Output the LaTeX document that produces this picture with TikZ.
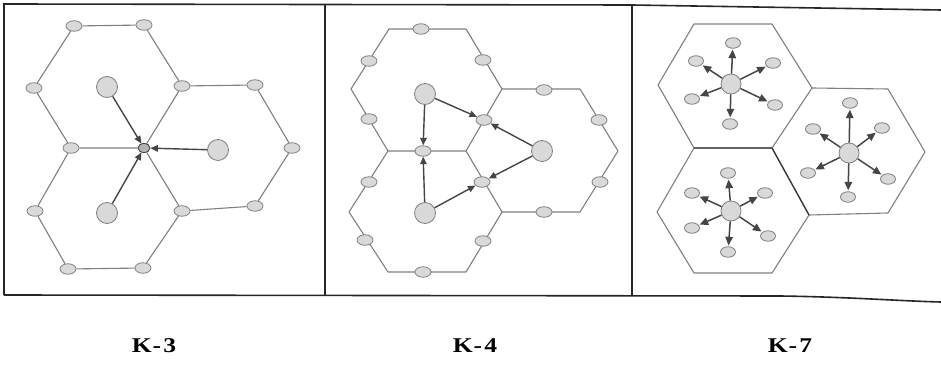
\documentclass[tikz,border=0pt]{standalone}
\usepackage{fontspec}
\setmainfont{Liberation Serif}
\usetikzlibrary{arrows.meta,shapes.geometric}
\definecolor{hexgray}{gray}{0.5}
\definecolor{nodefill}{gray}{0.85}
\definecolor{arrowgray}{gray}{0.27}
\definecolor{framecol}{gray}{0.15}
\begin{document}
\begin{tikzpicture}[x=1pt,y=-1pt,
  hexedge/.style={draw=hexgray,line width=1.1pt},
  sm/.style={ellipse,draw=hexgray,fill=nodefill,line width=0.8pt,minimum width=16pt,minimum height=10.5pt,inner sep=0pt},
  smk/.style={ellipse,draw=hexgray,fill=nodefill,line width=0.8pt,minimum width=15pt,minimum height=10.5pt,inner sep=0pt},
  big/.style={circle,draw=hexgray,fill=nodefill,line width=0.8pt,minimum size=21pt,inner sep=0pt},
  ctr/.style={ellipse,draw=gray!45!black,fill=gray!60,line width=0.8pt,minimum width=12pt,minimum height=9pt,inner sep=0pt},
  arr/.style={draw=arrowgray,line width=1.4pt,-{Triangle[length=7.5pt,width=6.5pt]}},
  arrk/.style={draw=arrowgray,line width=1.5pt,shorten >=1pt,-{Triangle[length=8.5pt,width=7.5pt]}},
  frame/.style={draw=framecol,line width=1.6pt},
  divider/.style={draw=framecol,line width=2.6pt},
  lab/.style={font=\fontsize{21}{25}\selectfont\bfseries,inner sep=0pt}
]
\useasboundingbox[fill=white] (0,0) rectangle (941,371);

% ---------- frame ----------
\draw[frame] (4,295) -- (4,4) -- (632,5) -- (941,10);
\draw[frame] (4,295) -- (780,296) .. controls (850,297) and (900,301) .. (941,302);
\draw[divider] (325,4) -- (325,295);
\draw[divider] (632,5) -- (632,295);

% ---------- K-3 ----------
\node[sm] (a1) at (74,26) {};
\node[sm] (a2) at (144,25) {};
\node[sm] (a3) at (34,88) {};
\node[sm] (a4) at (182,86) {};
\node[sm] (a5) at (255,85) {};
\node[sm] (a6) at (71,148) {};
\node[ctr] (c) at (144,148) {};
\node[sm] (a7) at (292,148) {};
\node[sm] (a8) at (35,211) {};
\node[sm] (a9) at (182,211) {};
\node[sm] (a10) at (255,206) {};
\node[sm] (a11) at (68,269) {};
\node[sm] (a12) at (143,268) {};
\node[big] (b1) at (107,87) {};
\node[big] (b2) at (218,150) {};
\node[big] (b3) at (107,213) {};
\path[hexedge] (a1) -- (a2) (a2) -- (a4) (a4) -- (c) (c) -- (a6) (a6) -- (a3) (a3) -- (a1)
  (a4) -- (a5) (a5) -- (a7) (a7) -- (a10) (a10) -- (a9) (a9) -- (c)
  (a6) -- (a8) (a8) -- (a11) (a11) -- (a12) (a12) -- (a9);
\draw[arr] (b1) -- (c);
\draw[arr] (b2) -- (c);
\draw[arr] (b3) -- (c);

% ---------- K-4 ----------
\coordinate (v1) at (389,29);
\coordinate (v2) at (466,29);
\coordinate (v3) at (502,89);
\coordinate (v4) at (466,151);
\coordinate (v5) at (388,151);
\coordinate (v6) at (351,89);
\coordinate (v7) at (580,89);
\coordinate (v8) at (618,151);
\coordinate (v9) at (580,212);
\coordinate (v10) at (502,212);
\coordinate (v11) at (466,272);
\coordinate (v12) at (388,272);
\coordinate (v13) at (349,212);
\draw[hexedge,line join=round] (v1) -- (v2) -- (v3) -- (v4) -- (v5) -- (v6) -- cycle;
\draw[hexedge,line join=round] (v3) -- (v7) -- (v8) -- (v9) -- (v10) -- (v4);
\draw[hexedge,line join=round] (v10) -- (v11) -- (v12) -- (v13) -- (v5);
\node[sm] (m1) at (421,29) {};
\node[sm] (m2) at (369,61) {};
\node[sm] (m3) at (483,60) {};
\node[sm] (m4) at (369,119) {};
\node[sm] (m5) at (484,120) {};
\node[sm] (m6) at (423,151) {};
\node[sm] (m7) at (544,90) {};
\node[sm] (m8) at (599,120) {};
\node[sm] (m9) at (482,182) {};
\node[sm] (m10) at (600,182) {};
\node[sm] (m11) at (369,182) {};
\node[sm] (m12) at (544,212) {};
\node[sm] (m13) at (365,240) {};
\node[sm] (m14) at (483,241) {};
\node[sm] (m15) at (423,272) {};
\node[big] (B1) at (425,94) {};
\node[big] (B2) at (542,151) {};
\node[big] (B3) at (425,213) {};
\draw[arr] (B1) -- (m6);
\draw[arr] (B1) -- (m5);
\draw[arr] (B2) -- (m5);
\draw[arr] (B2) -- (m9);
\draw[arr] (B3) -- (m6);
\draw[arr] (B3) -- (m9);

% ---------- K-7 ----------
\coordinate (w1) at (694,24);
\coordinate (w2) at (772,24);
\coordinate (w3) at (812,88);
\coordinate (w4) at (772,148);
\coordinate (w5) at (694,148);
\coordinate (w6) at (658,85);
\coordinate (w7) at (888,89);
\coordinate (w8) at (925,152);
\coordinate (w9) at (888,213);
\coordinate (w10) at (809,215);
\coordinate (w11) at (772,273);
\coordinate (w12) at (694,273);
\coordinate (w13) at (657,212);
\draw[hexedge,line join=round] (w1) -- (w2) -- (w3) -- (w4) -- (w5) -- (w6) -- cycle;
\draw[hexedge,line join=round] (w3) -- (w7) -- (w8) -- (w9) -- (w10) -- (w4);
\draw[hexedge,line join=round] (w10) -- (w11) -- (w12) -- (w13) -- (w5);
\draw[hexedge,draw=gray!45!black,line width=1.3pt] (w5) -- (w4) -- (w10);

% cell 1
\node[big,minimum size=20pt] (C1) at (731,84) {};
\node[smk] (p1) at (733,43) {};
\node[smk] (p2) at (696,61) {};
\node[smk] (p3) at (773,63) {};
\node[smk] (p4) at (692,99) {};
\node[smk] (p5) at (775,105) {};
\node[smk] (p6) at (730,124) {};
\foreach \t in {p1,p2,p3,p4,p5,p6} \draw[arrk] (C1) -- (\t);
% cell 2
\node[big,minimum size=20pt] (C2) at (849,153) {};
\node[smk] (q1) at (850,103) {};
\node[smk] (q2) at (813,129) {};
\node[smk] (q3) at (882,128) {};
\node[smk] (q4) at (808,173) {};
\node[smk] (q5) at (888,179) {};
\node[smk] (q6) at (848,197) {};
\foreach \t in {q1,q2,q3,q4,q5,q6} \draw[arrk] (C2) -- (\t);
% cell 3
\node[big,minimum size=20pt] (C3) at (731,211) {};
\node[smk] (r1) at (728,173) {};
\node[smk] (r2) at (692,193) {};
\node[smk] (r3) at (765,193) {};
\node[smk] (r4) at (692,228) {};
\node[smk] (r5) at (768,236) {};
\node[smk] (r6) at (728,252) {};
\foreach \t in {r1,r2,r3,r4,r5,r6} \draw[arrk] (C3) -- (\t);

% ---------- labels ----------
\node[lab] (l3) at (154,346) {\scalebox{1.22}[1]{K\kern0.8pt-\kern1.8pt3}};
\node[lab] (l4) at (475,346) {\scalebox{1.22}[1]{K\kern0.8pt-\kern1.8pt4}};
\node[lab] (l7) at (790,346) {\scalebox{1.22}[1]{K\kern0.8pt-\kern1.8pt7}};
\end{tikzpicture}
\end{document}
